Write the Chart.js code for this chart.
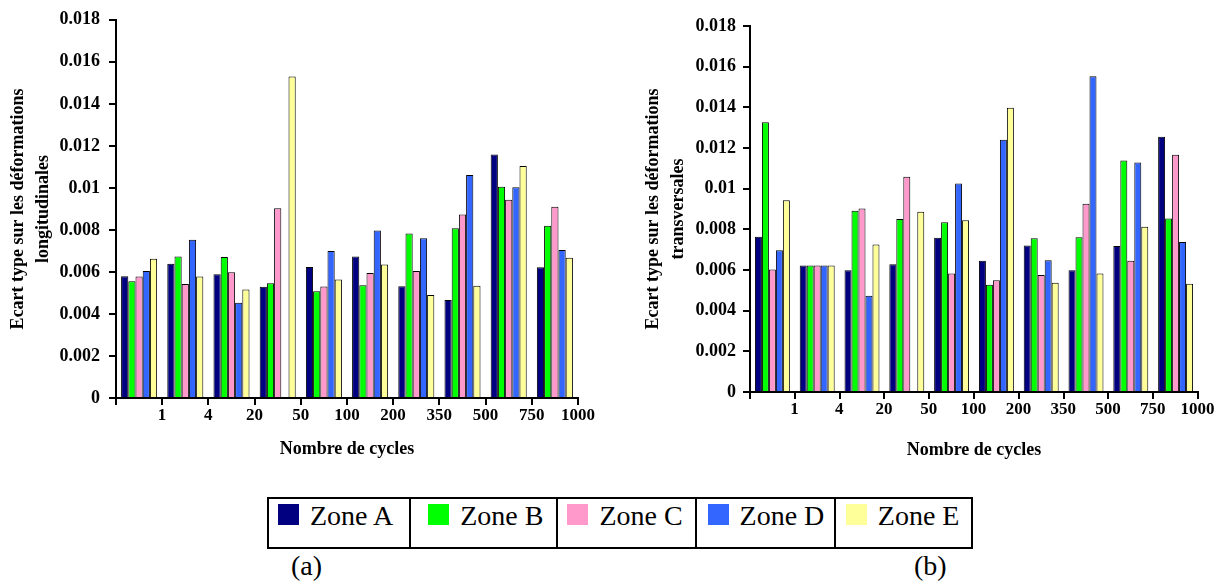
<!DOCTYPE html>
<html>
<head>
<meta charset="utf-8">
<script src="https://cdn.jsdelivr.net/npm/chart.js@4/dist/chart.umd.min.js"></script>
<style>
  body { margin: 0; width: 1223px; height: 585px; background: #fff; position: relative; overflow: hidden; font-family: "Liberation Serif", serif; }
  #chartA { position: absolute; left: 0; top: 0; }
  #chartB { position: absolute; left: 630px; top: 0; }
  .legend { position: absolute; left: 267px; top: 497px; width: 706px; height: 52px; border: 2px solid #000; box-sizing: border-box; display: flex; }
  .cell { box-sizing: border-box; height: 100%; border-left: 2px solid #000; padding-top: 1px; font-size: 28px; line-height: 31px; white-space: nowrap; }
  .cell:first-child { border-left: none; }
  .sw { display: inline-block; width: 21px; height: 21px; margin-right: 11px; vertical-align: baseline; }
  .tag { position: absolute; top: 550px; font-size: 28px; line-height: 31px; }
</style>
</head>
<body>
<canvas id="chartA" width="600" height="470"></canvas>
<canvas id="chartB" width="593" height="470"></canvas>

<div class="legend" id="legend"></div>
<div class="tag" style="left:291px">(a)</div>
<div class="tag" style="left:914px">(b)</div>

<script>
// nombre de cycles
const cycles = ['1', '4', '20', '50', '100', '200', '350', '500', '750', '1000'];
const zones = ['Zone A', 'Zone B', 'Zone C', 'Zone D', 'Zone E'];
const zoneColors = ['#000080', '#00FF00', '#FF99CC', '#3366FF', '#FFFF99'];

// (a) déformations longitudinales
const longA = [0.00580, 0.00639, 0.00589, 0.00529, 0.00624, 0.00674, 0.00532, 0.00466, 0.01159, 0.00622];
const longB = [0.00556, 0.00674, 0.00671, 0.00546, 0.00508, 0.00537, 0.00783, 0.00808, 0.01006, 0.00820];
const longC = [0.00578, 0.00542, 0.00598, 0.00903, 0.00531, 0.00595, 0.00605, 0.00873, 0.00943, 0.00910];
const longD = [0.00605, 0.00753, 0.00453, null, 0.00700, 0.00797, 0.00760, 0.01061, 0.01003, 0.00704];
const longE = [0.00663, 0.00578, 0.00516, 0.01530, 0.00564, 0.00635, 0.00490, 0.00534, 0.01104, 0.00668];

// (b) déformations transversales
const transA = [0.00764, 0.00622, 0.00599, 0.00628, 0.00758, 0.00646, 0.00720, 0.00599, 0.00718, 0.01255];
const transB = [0.01327, 0.00622, 0.00892, 0.00851, 0.00835, 0.00527, 0.00756, 0.00761, 0.01139, 0.00853];
const transC = [0.00602, 0.00622, 0.00902, 0.01059, 0.00583, 0.00550, 0.00576, 0.00926, 0.00646, 0.01167];
const transD = [0.00697, 0.00622, 0.00473, null, 0.01025, 0.01241, 0.00648, 0.01553, 0.01129, 0.00738];
const transE = [0.00943, 0.00622, 0.00725, 0.00887, 0.00845, 0.01398, 0.00537, 0.00583, 0.00813, 0.00532];

const yTicks = { min: 0, max: 0.018, step: 0.002 };

Chart.defaults.font.family = '"Liberation Serif", "Times New Roman", serif';
Chart.defaults.color = '#000';

function makeChart(id, series, yTitle, opts) {
  const datasets = series.map(function(values, i) {
    return {
      label: zones[i],
      data: values,
      backgroundColor: zoneColors[i],
      borderColor: '#000',
      borderWidth: 1,
      categoryPercentage: 0.78,
      barPercentage: 1.0
    };
  });

  return new Chart(document.getElementById(id), {
    type: 'bar',
    data: { labels: cycles, datasets: datasets },
    options: {
      responsive: false,
      animation: false,
      devicePixelRatio: 1,
      layout: { padding: { left: 0, top: opts.top, right: opts.right, bottom: 0 } },
      plugins: { legend: { display: false }, tooltip: { enabled: false } },
      scales: {
        x: {
          grid: { display: true, drawOnChartArea: false, drawTicks: true, tickLength: 7, color: '#000', lineWidth: 2, offset: true },
          border: { display: true, color: '#000', width: 2 },
          ticks: {
            autoSkip: false, maxRotation: 0, padding: 0,
            labelOffset: opts.labelOffset,
            font: { size: 17, weight: 'bold' }
          },
          title: {
            display: true, text: 'Nombre de cycles',
            font: { size: 18, weight: 'bold' },
            padding: { top: 0, bottom: opts.xTitlePad }
          },
          afterFit: function(scale) { scale.height = opts.xHeight; }
        },
        y: {
          min: yTicks.min, max: yTicks.max,
          grid: { display: true, drawOnChartArea: false, drawTicks: true, tickLength: 7, color: '#000', lineWidth: 2 },
          border: { display: true, color: '#000', width: 2 },
          ticks: {
            stepSize: yTicks.step, padding: opts.yTickPad,
            font: { size: 18, weight: 'bold' },
            callback: function(v) { return String(+v.toFixed(3)); }
          },
          title: {
            display: true, text: yTitle,
            font: { size: 18, weight: 'bold', lineHeight: 1.4 },
            padding: { top: opts.yTitlePad, bottom: 0 }
          },
          afterFit: function(scale) { scale.width = opts.yWidth; }
        }
      }
    }
  });
}

makeChart('chartA', [longA, longB, longC, longD, longE],
  ['Ecart type sur les déformations', 'longitudinales'],
  { top: 18, right: 22, yWidth: 116, xHeight: 72, labelOffset: 23, xTitlePad: 10, yTickPad: 9, yTitlePad: 6 });

makeChart('chartB', [transA, transB, transC, transD, transE],
  ['Ecart type sur les déformations', 'transversales'],
  { top: 26, right: 25, yWidth: 120, xHeight: 78, labelOffset: 22, xTitlePad: 9, yTickPad: 7, yTitlePad: 11 });

// légende commune
const cellWidths = [141, 148, 139, 140, 138];
const cellPads = [9, 17, 9, 11, 10];
const legend = document.getElementById('legend');
zones.forEach(function(z, i) {
  const cell = document.createElement('div');
  cell.className = 'cell';
  cell.style.width = cellWidths[i] + 'px';
  cell.style.paddingLeft = cellPads[i] + 'px';
  const sw = document.createElement('span');
  sw.className = 'sw';
  sw.style.background = zoneColors[i];
  cell.appendChild(sw);
  cell.appendChild(document.createTextNode(z));
  legend.appendChild(cell);
});
</script>
</body>
</html>
